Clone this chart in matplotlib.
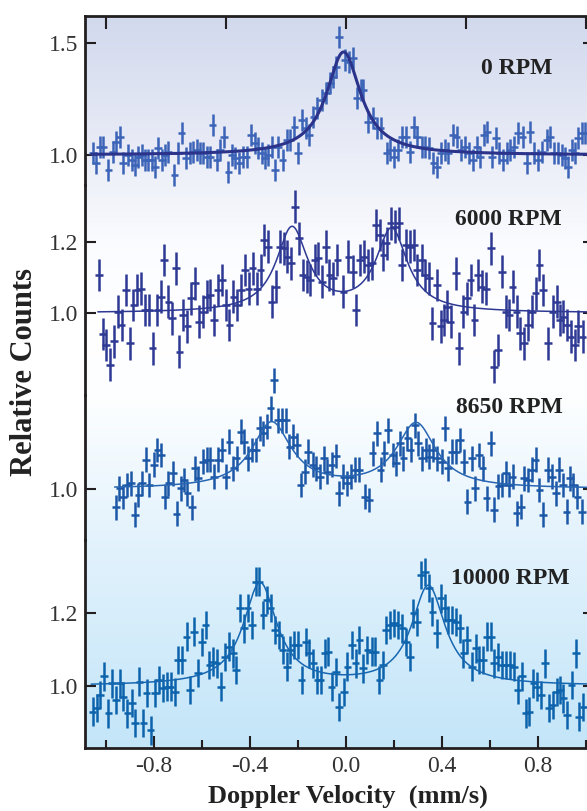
import numpy as np
import matplotlib.pyplot as plt

plt.rcParams['font.family'] = ['Liberation Serif', 'DejaVu Serif']

# ---- data: velocity (mm/s) and relative counts ----
vel_0 = [-1.053, -1.042, -1.025, -1.011, -0.990, -0.972, -0.958, -0.942, -0.928, -0.907,
         -0.893, -0.879, -0.865, -0.851, -0.837, -0.824, -0.810, -0.796, -0.782, -0.768,
         -0.754, -0.740, -0.715, -0.699, -0.685, -0.667, -0.650, -0.636, -0.622, -0.608,
         -0.594, -0.581, -0.567, -0.556, -0.539, -0.525, -0.508, -0.490, -0.476, -0.462,
         -0.444, -0.428, -0.414, -0.396, -0.379, -0.365, -0.351, -0.337, -0.324, -0.310,
         -0.296, -0.282, -0.264, -0.247, -0.233, -0.215, -0.199, -0.185, -0.167, -0.153,
         -0.136, -0.119, -0.101, -0.083, -0.067, -0.053, -0.042, -0.028,
         -0.004, 0.014, 0.028, 0.044, 0.061, 0.072, 0.093, 0.111, 0.128, 0.144,
         0.169, 0.183, 0.200, 0.218, 0.232, 0.250, 0.267, 0.283, 0.297, 0.315,
         0.329, 0.347, 0.364, 0.378, 0.394, 0.412, 0.426, 0.447, 0.461, 0.478,
         0.496, 0.514, 0.528, 0.544, 0.558, 0.575, 0.589, 0.607, 0.624, 0.639,
         0.653, 0.669, 0.683, 0.700, 0.718, 0.736, 0.753, 0.767, 0.783, 0.801,
         0.818, 0.836, 0.850, 0.867, 0.883, 0.899, 0.912, 0.926, 0.940, 0.954,
         0.968, 0.982, 0.996]
cts_0 = [1.007, 0.963, 1.037, 1.037, 0.933, 1.015, 1.060, 1.082, 0.963, 1.000,
         0.978, 0.955, 0.993, 1.000, 0.978, 0.978, 0.978, 0.948, 1.030, 0.978,
         1.000, 1.015, 0.911, 1.007, 1.097, 0.985, 1.007, 1.015, 1.022, 1.007,
         1.007, 0.993, 0.993, 1.134, 0.978, 1.022, 1.082, 0.926, 1.000, 0.985,
         0.963, 0.993, 0.993, 1.089, 1.052, 1.030, 1.007, 0.985, 1.000, 1.037,
         0.933, 1.037, 0.978, 1.067, 1.067, 1.126, 1.007, 1.156, 1.119, 1.089,
         1.171, 1.208, 1.246, 1.275, 1.320, 1.350, 1.394, 1.528,
         1.424, 1.417, 1.432, 1.253, 1.290, 1.290, 1.149, 1.164, 1.119, 1.119,
         1.007, 1.022, 0.993, 1.022, 1.082, 1.082, 1.015, 1.126, 1.082, 1.037,
         1.037, 1.030, 0.963, 0.948, 1.007, 1.022, 1.007, 1.089, 1.082, 1.022,
         1.037, 1.007, 0.978, 1.037, 0.993, 1.089, 1.104, 0.993, 1.074, 1.007,
         0.978, 1.007, 1.022, 1.037, 1.097, 1.082, 0.963, 1.104, 1.007, 0.978,
         1.015, 1.067, 1.082, 1.007, 1.007, 1.000, 0.985, 0.948, 1.022, 1.007,
         1.074, 1.097, 1.097]

vel_6000 = [-1.028, -1.014, -1.000, -0.983, -0.967, -0.949, -0.935, -0.917, -0.900, -0.886,
            -0.869, -0.854, -0.837, -0.821, -0.806, -0.786, -0.772, -0.758, -0.740, -0.726,
            -0.708, -0.694, -0.678, -0.661, -0.646, -0.629, -0.612, -0.597, -0.581, -0.567,
            -0.549, -0.532, -0.518, -0.501, -0.486, -0.469, -0.453, -0.436, -0.422, -0.406,
            -0.389, -0.372, -0.356, -0.342, -0.324, -0.310, -0.293, -0.275, -0.258, -0.244,
            -0.229, -0.212, -0.196, -0.181, -0.164, -0.150, -0.129, -0.115, -0.101, -0.083,
            -0.069, -0.053, -0.036,
            -0.011, 0.010, 0.028, 0.042, 0.058, 0.075, 0.093, 0.107, 0.125, 0.142,
            0.156, 0.169, 0.186, 0.204, 0.221, 0.232, 0.250, 0.267, 0.283, 0.297,
            0.315, 0.329, 0.346, 0.360, 0.378, 0.394, 0.408, 0.422, 0.436, 0.458,
            0.472, 0.489, 0.503, 0.519, 0.535, 0.549, 0.565, 0.583, 0.603, 0.617,
            0.632, 0.649, 0.667, 0.681, 0.694, 0.711, 0.725, 0.743, 0.757, 0.774,
            0.790, 0.806, 0.822, 0.843, 0.861, 0.878, 0.892, 0.906, 0.922, 0.936,
            0.954, 0.968, 0.986]
cts_6000 = [1.107, 0.941, 0.910, 0.854, 0.920, 1.004, 0.966, 1.065, 0.915, 1.023,
            1.065, 1.069, 1.008, 1.008, 0.900, 1.008, 1.046, 1.149, 1.032, 0.985,
            1.126, 0.891, 0.994, 0.962, 1.041, 1.084, 0.976, 1.004, 1.046, 1.051,
            0.980, 1.065, 1.093, 1.023, 0.966, 1.046, 1.023, 1.065, 1.121, 1.069,
            1.126, 1.069, 1.121, 1.206, 1.187, 1.032, 1.074, 1.187, 1.182, 1.159,
            1.140, 1.300, 1.210, 1.107, 1.102, 1.093, 1.149, 1.154, 1.088, 1.187,
            1.107, 1.098, 1.149,
            1.060, 1.159, 1.116, 1.008, 1.149, 1.159, 1.135, 1.140, 1.248, 1.220,
            1.163, 1.196, 1.253, 1.243, 1.253, 1.135, 1.192, 1.187, 1.192, 1.121,
            1.149, 1.107, 1.098, 0.971, 1.079, 0.962, 0.980, 1.018, 0.976, 1.112,
            0.900, 1.004, 1.041, 1.093, 0.980, 1.107, 1.074, 1.069, 1.182, 0.849,
            0.896, 1.116, 1.004, 0.994, 1.074, 1.004, 0.943, 0.915, 0.966, 1.004,
            1.055, 1.135, 1.065, 0.915, 1.004, 1.032, 0.980, 0.990, 0.966, 0.933,
            0.910, 0.962, 0.933]

vel_8650 = [-0.958, -0.944, -0.928, -0.911, -0.897, -0.879, -0.865, -0.851, -0.833, -0.819,
            -0.800, -0.786, -0.772, -0.754, -0.740, -0.722, -0.706, -0.689, -0.675, -0.661,
            -0.643, -0.629, -0.615, -0.597, -0.581, -0.567, -0.550, -0.532, -0.518, -0.501,
            -0.486, -0.469, -0.456, -0.439, -0.424, -0.407, -0.390, -0.376, -0.358, -0.344,
            -0.328, -0.314, -0.299, -0.282, -0.265, -0.250, -0.236, -0.219, -0.203, -0.189,
            -0.171, -0.157, -0.139, -0.125, -0.108, -0.092, -0.078, -0.060, -0.043, -0.029,
            -0.011, 0.003, 0.019, 0.037, 0.056, 0.079, 0.097, 0.111, 0.128, 0.144,
            0.160, 0.176, 0.194, 0.208, 0.225, 0.239, 0.256, 0.269, 0.287, 0.301,
            0.318, 0.333, 0.347, 0.364, 0.380, 0.399, 0.412, 0.426, 0.440, 0.458,
            0.475, 0.492, 0.506, 0.524, 0.537, 0.554, 0.569, 0.586, 0.603, 0.617,
            0.635, 0.651, 0.667, 0.681, 0.694, 0.711, 0.728, 0.742, 0.757, 0.774,
            0.790, 0.806, 0.822, 0.843, 0.857, 0.874, 0.888, 0.903, 0.919, 0.933,
            0.947, 0.964, 0.982]
cts_8650 = [0.948, 1.002, 0.978, 1.011, 1.016, 0.927, 0.983, 1.016, 1.082, 1.011,
            1.068, 1.110, 1.096, 0.978, 1.016, 1.044, 0.930, 1.002, 1.025, 0.988,
            0.948, 1.058, 1.030, 1.077, 1.082, 1.082, 1.035, 1.082, 1.110, 1.035,
            1.133, 1.058, 1.086, 1.162, 1.133, 1.086, 1.110, 1.110, 1.171, 1.157,
            1.176, 1.227, 1.307, 1.194, 1.194, 1.194, 1.119, 1.147, 1.124, 1.011,
            1.049, 1.105, 1.068, 1.058, 1.035, 1.086, 1.049, 1.068, 1.093, 0.988,
            1.035, 1.016, 1.035, 1.054, 1.054, 0.978, 0.969, 1.100, 1.157, 1.054,
            1.100, 1.166, 1.096, 1.072, 1.129, 1.086, 1.143, 1.110, 1.180, 1.129,
            1.086, 1.110, 1.091, 1.110, 1.086, 1.077, 1.171, 1.058, 1.105, 1.105,
            1.138, 1.077, 0.964, 1.086, 1.002, 1.096, 1.058, 0.974, 1.129, 0.941,
            1.007, 1.011, 1.044, 1.011, 1.035, 0.931, 0.950, 1.030, 1.025, 1.054,
            1.082, 0.997, 0.927, 1.054, 1.035, 0.988, 1.054, 1.011, 0.936, 1.030,
            1.011, 0.978, 0.936]

vel_10000 = [-1.056, -1.039, -1.025, -1.008, -0.990, -0.974, -0.958, -0.942, -0.928, -0.911,
             -0.893, -0.879, -0.861, -0.844, -0.831, -0.814, -0.796, -0.779, -0.764, -0.747,
             -0.731, -0.712, -0.699, -0.682, -0.664, -0.650, -0.633, -0.618, -0.601, -0.585,
             -0.569, -0.553, -0.539, -0.522, -0.504, -0.487, -0.472, -0.458, -0.442, -0.425,
             -0.410, -0.393, -0.376, -0.361, -0.344, -0.328, -0.314, -0.296, -0.279, -0.264,
             -0.247, -0.233, -0.215, -0.199, -0.185, -0.168, -0.153, -0.136, -0.119, -0.106,
             -0.088, -0.074, -0.060, -0.042, -0.028,
             -0.008, 0.006, 0.024, 0.040, 0.056, 0.072, 0.089, 0.107, 0.121, 0.139,
             0.153, 0.167, 0.183, 0.200, 0.218, 0.235, 0.249, 0.267, 0.281, 0.297,
             0.312, 0.329, 0.346, 0.360, 0.378, 0.394, 0.412, 0.426, 0.443, 0.458,
             0.475, 0.489, 0.506, 0.524, 0.540, 0.556, 0.572, 0.586, 0.603, 0.618,
             0.635, 0.651, 0.667, 0.683, 0.700, 0.715, 0.732, 0.749, 0.762, 0.781,
             0.797, 0.813, 0.829, 0.847, 0.861, 0.878, 0.892, 0.906, 0.922, 0.940,
             0.958, 0.972, 0.989]
cts_10000 = [0.930, 0.939, 0.975, 1.026, 0.925, 1.007, 0.962, 1.007, 0.971, 0.925,
             0.953, 0.898, 1.012, 0.898, 0.980, 0.878, 0.980, 1.016, 0.994, 0.998,
             0.998, 0.984, 1.071, 1.071, 1.135, 0.989, 1.149, 1.035, 1.121, 1.167,
             1.058, 1.067, 1.062, 0.998, 1.080, 1.108, 1.089, 1.044, 1.213, 1.158,
             1.213, 1.167, 1.286, 1.286, 1.195, 1.236, 1.213, 1.153, 1.140, 1.099,
             1.053, 1.099, 1.112, 1.112, 1.016, 1.121, 1.089, 1.062, 1.016, 1.016,
             1.089, 1.094, 0.998, 1.039, 0.943,
             0.984, 1.053, 1.112, 1.062, 1.126, 1.048, 1.099, 1.094, 1.094, 1.016,
             1.058, 1.153, 1.167, 1.172, 1.167, 1.158, 1.121, 1.080, 1.199, 1.176,
             1.304, 1.313, 1.268, 1.204, 1.144, 1.240, 1.213, 1.181, 1.181, 1.176,
             1.158, 1.089, 1.126, 1.053, 1.103, 1.071, 1.071, 1.135, 1.135, 1.062,
             1.080, 1.058, 1.058, 1.058, 1.053, 0.989, 1.026, 0.925, 0.930, 1.007,
             0.998, 0.975, 1.062, 0.939, 0.948, 0.984, 0.989, 0.966, 0.921, 1.003,
             1.089, 0.916, 0.943]

# error bar half sizes (counts, velocity)
yerr_list = [0.049, 0.046, 0.035, 0.039]
xerr = 0.016

# Lorentzian fit parameters: line centres, amplitudes, half width
fit_centers = [[-0.010], [-0.225, 0.190], [-0.310, 0.292], [-0.358, 0.343]]
fit_amps = [[0.460], [0.236, 0.232], [0.185, 0.183], [0.280, 0.272]]
fit_hwhm = [0.087, 0.080, 0.100, 0.085]

labels = ['0 RPM', '6000 RPM', '8650 RPM', '10000 RPM']
label_pos = [(0.5625, 1.362), (0.454, 1.248), (0.46, 1.213), (0.4375, 1.279)]
yticks_list = [[1.0, 1.5], [1.0, 1.2], [1.0], [1.0, 1.2]]

vels = [vel_0, vel_6000, vel_8650, vel_10000]
counts = [cts_0, cts_6000, cts_8650, cts_10000]

pt_colors = ['#3b63b7', '#2e3994', '#1b57a6', '#0c63ac']
fit_colors = ['#2b338b', '#2e3994', '#2866b3', '#1767b1']
fit_lw = [2.2, 1.1, 1.1, 1.1]

# layout (pixels from top of a 587x811 canvas)
W, H = 587.0, 811.0
px_top = [16, 185, 395, 540]
px_bot = [185, 395, 540, 748]
ylims = [(0.866, 1.6205), (0.769, 1.3606), (0.856, 1.265), (0.830, 1.400)]
xlim = (-1.0875, 1.035)
left = 85 / W
width = (xlim[1] - xlim[0]) * 240 / W
spine_c = '#231f20'
text_c = '#333333'


def lorentz(x, centers, amps, hw):
    y = np.ones_like(x)
    for c, a in zip(centers, amps):
        y += a / (1 + ((x - c) / hw) ** 2)
    return y


fig = plt.figure(figsize=(W / 100, H / 100), dpi=100)

# background gradient behind the whole frame
bg = fig.add_axes([left, 1 - 748 / H, width, (748 - 16) / H])
stops_t = [0.0, 0.19, 0.32, 0.43, 0.525, 0.716, 1.0]
stops_c = np.array([(0.82, 0.85, 0.93), (0.92, 0.93, 0.97), (0.985, 0.99, 1.0),
                    (1.0, 1.0, 1.0), (0.99, 0.997, 1.0), (0.89, 0.95, 0.99),
                    (0.765, 0.90, 0.975)])
tt = np.linspace(0, 1, 400)
grad = np.stack([np.interp(tt, stops_t, stops_c[:, k]) for k in range(3)], axis=-1)
bg.imshow(grad[:, None, :], aspect='auto', extent=[0, 1, 0, 1], origin='upper')
bg.axis('off')

for i in range(4):
    ax = fig.add_axes([left, 1 - px_bot[i] / H, width, (px_bot[i] - px_top[i]) / H])
    ax.patch.set_alpha(0)
    x = np.array(vels[i])
    y = np.array(counts[i])
    eb = ax.errorbar(x, y, yerr=yerr_list[i], xerr=xerr, fmt='none',
                     ecolor=pt_colors[i], elinewidth=1.8, capsize=0, zorder=2)
    for lc in eb[2]:
        lc.set_clip_on(False)
    xf = np.linspace(x.min() - 0.005, 1.03, 600)
    ax.plot(xf, lorentz(xf, fit_centers[i], fit_amps[i], fit_hwhm[i]),
            color=fit_colors[i], lw=fit_lw[i], zorder=3)

    ax.set_xlim(*xlim)
    ax.set_ylim(*ylims[i])
    ax.set_yticks(yticks_list[i])
    ax.set_yticklabels(['%.1f' % v for v in yticks_list[i]])
    ax.tick_params(axis='y', which='both', direction='in', left=True, right=True,
                   length=8, width=1.5, color=spine_c, labelsize=17,
                   labelcolor=text_c, pad=5)

    for s in ax.spines.values():
        s.set_color(spine_c)
        s.set_linewidth(2.0)
    if i > 0:
        ax.spines['top'].set_visible(False)
    if i < 3:
        ax.spines['bottom'].set_visible(False)

    if i == 0:
        ax.set_xticks([-1.0, -0.5, 0.0, 0.5, 1.0])
        ax.tick_params(axis='x', direction='in', top=True, bottom=False,
                       labeltop=False, labelbottom=False, length=9, width=1.5,
                       color=spine_c)
    elif i < 3:
        ax.set_xticks([])
    else:
        ax.set_xticks([-0.8, -0.4, 0.0, 0.4, 0.8])
        ax.set_xticks([-1.0, -0.6, -0.2, 0.2, 0.6, 1.0], minor=True)
        ax.set_xticklabels(['-0.8', '-0.4', '0.0', '0.4', '0.8'])
        ax.tick_params(axis='x', which='major', direction='in', top=False,
                       length=9, width=1.5, color=spine_c, labelsize=17,
                       labelcolor=text_c, pad=6)
        ax.tick_params(axis='x', which='minor', direction='in', top=False,
                       length=6, width=1.5, color=spine_c)

    ax.text(label_pos[i][0], label_pos[i][1], labels[i], fontsize=17,
            fontweight='bold', color='#222222', ha='left', va='baseline')

fig.text(25 / W, 1 - 372 / H, 'Relative Counts', rotation=90, fontsize=22,
         fontweight='bold', color='#222222', ha='center', va='center')
fig.text(348 / W, 1 - 803 / H, 'Doppler Velocity  (mm/s)', fontsize=19,
         fontweight='bold', color='#222222', ha='center', va='baseline')

fig.savefig('out.png', dpi=100)
